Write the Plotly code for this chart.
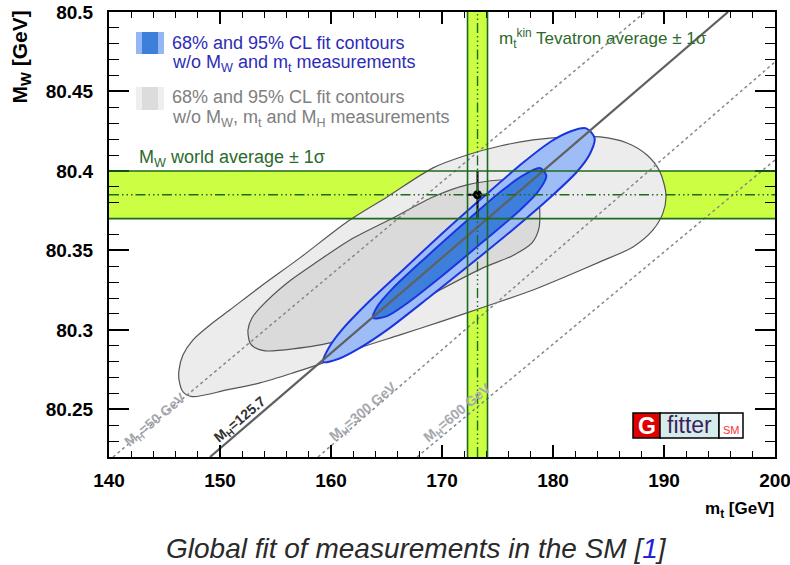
import plotly.graph_objects as go

# ---------------- data ----------------
mt_tickvals = [140, 150, 160, 170, 180, 190, 200]
mt_ticktext = ["140", "150", "160", "170", "180", "190", "200"]
mw_tickvals = [80.25, 80.30, 80.35, 80.40, 80.45, 80.50]
mw_ticktext = ["80.25", "80.3", "80.35", "80.4", "80.45", "80.5"]

# 95% CL contour without MW, mt, MH (light grey)
gray95_mt = [147.48, 146.67, 146.31, 146.31, 146.67, 147.57, 149.10, 150.90, 153.60, 157.20,
             161.44, 165.05, 169.19, 172.25, 175.23, 178.20, 181.26, 184.23, 186.67, 188.47,
             189.64, 190.18, 189.91, 189.01, 187.21, 184.23, 181.26, 178.20, 174.05, 169.82,
             166.22, 162.61, 159.28, 156.58, 153.60, 150.63, 147.48]
gray95_mw = [80.258, 80.261, 80.2685, 80.2748, 80.2843, 80.2937, 80.3031, 80.3126, 80.327, 80.3453,
             80.3679, 80.3836, 80.4019, 80.41, 80.4157, 80.4195, 80.4214, 80.4214, 80.4176, 80.41,
             80.3994, 80.3849, 80.3736, 80.3629, 80.3522, 80.3428, 80.3339, 80.3251, 80.315, 80.305,
             80.2968, 80.2887, 80.2792, 80.2729, 80.2666, 80.2622, 80.258]

# 68% CL contour without MW, mt, MH (darker grey)
gray68_mt = [152.70, 152.52, 152.88, 153.60, 156.04, 158.74, 161.71, 165.59, 169.19, 172.25,
             175.23, 177.48, 178.38, 178.74, 178.74, 178.11, 176.31, 173.69, 169.82, 166.22,
             162.61, 160.18, 156.58, 154.05, 153.15, 152.70]
gray68_mw = [80.2918, 80.30, 80.3075, 80.3138, 80.3295, 80.3428, 80.3566, 80.3704, 80.3836, 80.3912,
             80.3943, 80.3943, 80.3912, 80.3817, 80.3641, 80.3547, 80.3465, 80.339, 80.3251, 80.3113,
             80.30, 80.2924, 80.288, 80.2868, 80.2887, 80.2918]

# 95% CL contour without MW, mt (light blue)
blue95_mt = [159.28, 159.83, 160.98, 163.18, 166.65, 170.14, 173.68, 177.29, 179.81, 181.55,
             182.98, 183.75, 183.31, 182.16, 179.87, 176.27, 172.59, 168.87, 165.12, 162.45,
             160.71, 159.28]
blue95_mw = [80.2798, 80.289, 80.300, 80.3161, 80.3388, 80.3614, 80.3834, 80.4051, 80.4185, 80.4248,
             80.4268, 80.4206, 80.4105, 80.3995, 80.3841, 80.3624, 80.3414, 80.3207, 80.3003, 80.288,
             80.2818, 80.2798]

# 68% CL contour without MW, mt (blue)
blue68_mt = [163.78, 164.20, 165.52, 168.47, 172.24, 175.30, 177.26, 178.80, 179.40, 178.58,
             176.86, 173.79, 169.91, 166.73, 164.99, 163.78]
blue68_mw = [80.3075, 80.315, 80.3258, 80.3451, 80.3686, 80.387, 80.397, 80.4018, 80.397, 80.3863,
             80.3743, 80.356, 80.3334, 80.3161, 80.3085, 80.3075]

# SM lines for fixed Higgs mass
mh50_mt, mh50_mw = [140.36, 188.29], [80.22, 80.50]
mh125_mt, mh125_mw = [149.10, 195.77], [80.22, 80.50]
mh300_mt, mh300_mw = [158.83, 200.00], [80.22, 80.4686]
mh600_mt, mh600_mw = [167.75, 200.00], [80.22, 80.4069]
mh_label_text = ["M<sub>H</sub>=50 GeV", "M<sub>H</sub>=125.7", "M<sub>H</sub>=300 GeV", "M<sub>H</sub>=600 GeV"]
mh_label_mt = [144.2, 151.8, 162.9, 171.4]
mh_label_mw = [80.2434, 80.2434, 80.2484, 80.2478]

# measurements
mw_avg, mw_err = 80.385, 0.015
mt_avg, mt_err = 173.2, 0.9

# ---------------- layout helpers ----------------
L, R, T, B = 109, 15, 12, 108
W, H = 790, 565
PW, PH = W - L - R, H - T - B


def px(x):
    return (x - L) / PW


def py(y):
    return (T + PH - y) / PH


FONT = "Liberation Sans, Arial, sans-serif"
GREEN_FILL = "#ccff44"
GREEN_LINE = "#1d6a1d"
DASHDOT = "10px,3px,1.5px,3px,1.5px,3px,1.5px,3px"

fig = go.Figure()

fig.add_trace(go.Scatter(x=gray95_mt, y=gray95_mw, mode="lines", fill="toself",
                         fillcolor="#ececec", line=dict(color="#555555", width=1.2, shape="spline", smoothing=0.8),
                         hoverinfo="skip", showlegend=False))
fig.add_trace(go.Scatter(x=gray68_mt, y=gray68_mw, mode="lines", fill="toself",
                         fillcolor="#dadada", line=dict(color="#555555", width=1.2, shape="spline", smoothing=0.8),
                         hoverinfo="skip", showlegend=False))
fig.add_trace(go.Scatter(x=blue95_mt, y=blue95_mw, mode="lines", fill="toself",
                         fillcolor="#9ebdf7", line=dict(color="#1a35e0", width=2, shape="spline", smoothing=0.8),
                         hoverinfo="skip", showlegend=False))
fig.add_trace(go.Scatter(x=blue68_mt, y=blue68_mw, mode="lines", fill="toself",
                         fillcolor="#3f7fdc", line=dict(color="#1a35e0", width=2, shape="spline", smoothing=0.8),
                         hoverinfo="skip", showlegend=False))

for xs, ys, dash, col, w in [(mh50_mt, mh50_mw, "3px,3px", "#888888", 1.5),
                              (mh300_mt, mh300_mw, "3px,3px", "#888888", 1.5),
                              (mh600_mt, mh600_mw, "3px,3px", "#888888", 1.5),
                              (mh125_mt, mh125_mw, "solid", "#606060", 2.2)]:
    fig.add_trace(go.Scatter(x=xs, y=ys, mode="lines", line=dict(color=col, width=w, dash=dash),
                             hoverinfo="skip", showlegend=False, cliponaxis=True))

fig.add_trace(go.Scatter(x=[mt_avg], y=[mw_avg], mode="markers",
                         marker=dict(color="black", size=9),
                         error_x=dict(type="data", array=[mt_err], color="black", thickness=2, width=0),
                         error_y=dict(type="data", array=[mw_err], color="black", thickness=2, width=0),
                         hoverinfo="skip", showlegend=False))

shapes = []
# bands (fill below the contours)
shapes.append(dict(type="rect", xref="x", yref="y", x0=140, x1=200, y0=mw_avg - mw_err, y1=mw_avg + mw_err,
                   fillcolor=GREEN_FILL, line=dict(width=0), layer="below"))
shapes.append(dict(type="rect", xref="x", yref="y", x0=mt_avg - mt_err, x1=mt_avg + mt_err, y0=80.22, y1=80.5,
                   fillcolor=GREEN_FILL, line=dict(width=0), layer="below"))
# band edges and centres (on top)
for yv in (mw_avg - mw_err, mw_avg + mw_err):
    shapes.append(dict(type="line", xref="x", yref="y", x0=140, x1=200, y0=yv, y1=yv,
                       line=dict(color=GREEN_LINE, width=1.6), layer="above"))
for xv in (mt_avg - mt_err, mt_avg + mt_err):
    shapes.append(dict(type="line", xref="x", yref="y", x0=xv, x1=xv, y0=80.22, y1=80.5,
                       line=dict(color=GREEN_LINE, width=1.6), layer="above"))
shapes.append(dict(type="line", xref="x", yref="y", x0=140, x1=200, y0=mw_avg, y1=mw_avg,
                   line=dict(color=GREEN_LINE, width=1.4, dash=DASHDOT), layer="above"))
shapes.append(dict(type="line", xref="x", yref="y", x0=mt_avg, x1=mt_avg, y0=80.22, y1=80.5,
                   line=dict(color=GREEN_LINE, width=1.4, dash=DASHDOT), layer="above"))

# legend icons
shapes.append(dict(type="rect", xref="paper", yref="paper", x0=px(136), x1=px(164), y0=py(54), y1=py(32),
                   fillcolor="#93b6f5", line=dict(width=0)))
shapes.append(dict(type="rect", xref="paper", yref="paper", x0=px(142), x1=px(158), y0=py(54), y1=py(32),
                   fillcolor="#3f7fdc", line=dict(width=0)))
shapes.append(dict(type="rect", xref="paper", yref="paper", x0=px(136), x1=px(164), y0=py(110), y1=py(87),
                   fillcolor="#eeeeee", line=dict(width=0)))
shapes.append(dict(type="rect", xref="paper", yref="paper", x0=px(142), x1=px(158), y0=py(110), y1=py(87),
                   fillcolor="#dcdcdc", line=dict(width=0)))
# Gfitter logo boxes
shapes.append(dict(type="rect", xref="paper", yref="paper", x0=px(633), x1=px(660), y0=py(438), y1=py(413),
                   fillcolor="#e00000", line=dict(color="black", width=1.5)))
shapes.append(dict(type="rect", xref="paper", yref="paper", x0=px(660), x1=px(719), y0=py(438), y1=py(413),
                   fillcolor="#d6ebeb", line=dict(color="black", width=1.5)))
shapes.append(dict(type="rect", xref="paper", yref="paper", x0=px(719), x1=px(743), y0=py(438), y1=py(413),
                   fillcolor="white", line=dict(color="black", width=1.5)))

ann = []


def txt(text, x, y, size, color, xanchor="left", yanchor="middle", angle=0, weight="normal", xref="paper",
        yref="paper", italic=False):
    ann.append(dict(text=text, x=x, y=y, xref=xref, yref=yref, xanchor=xanchor, yanchor=yanchor,
                    textangle=angle, showarrow=False,
                    font=dict(family=FONT, size=size, color=color, weight=weight,
                              style="italic" if italic else "normal")))


BLUE_T = "#2c2cb8"
GRAY_T = "#808080"
GREEN_T = "#2c6a2c"
txt("68% and 95% CL fit contours", px(170), py(43), 18, BLUE_T)
txt("w/o M<sub>W</sub> and m<sub>t</sub> measurements", px(170), py(63), 18, BLUE_T)
txt("68% and 95% CL fit contours", px(170), py(97), 18, GRAY_T)
txt("w/o M<sub>W</sub>, m<sub>t</sub> and M<sub>H</sub> measurements", px(170), py(118), 18, GRAY_T)
txt("M<sub>W</sub> world average ± 1σ", px(137), py(158), 18, GREEN_T)
txt("m<sub>t</sub><sup>kin</sup> Tevatron average ± 1σ", px(497), py(38), 17, GREEN_T)

for t, xm, ym, c in zip(mh_label_text, mh_label_mt, mh_label_mw, ["#a4a8ae", "#333333", "#a4a8ae", "#a4a8ae"]):
    txt(t, xm, ym, 14, c, xanchor="center", angle=-40, weight="bold", xref="x", yref="y")

# logo texts
txt("G", px(646.5), py(425.5), 23, "white", xanchor="center", weight="bold")
txt("fitter", px(689.5), py(424.5), 23, "#3a1f5c", xanchor="center")
txt("SM", px(731), py(430), 11, "#ff3030", xanchor="center")

# axis titles and caption
txt("M<sub>W</sub> [GeV]", px(21), py(9), 21, "black", xanchor="center", yanchor="top", angle=-90, weight="bold")
txt("m<sub>t</sub> [GeV]", px(776), py(510), 17, "black", xanchor="right", weight="bold")
txt("Global fit of measurements in the SM [<span style='color:#2222dd'>1</span>]", px(416), py(548), 28,
    "#2a2a2a", xanchor="center", italic=True)

fig.update_layout(width=W, height=H, margin=dict(l=L, r=R, t=T, b=B, autoexpand=False),
                  paper_bgcolor="white", plot_bgcolor="white",
                  shapes=shapes, annotations=ann, showlegend=False)

fig.update_xaxes(range=[140, 200], tickvals=mt_tickvals, ticktext=mt_ticktext, automargin=False,
                 ticklabeloverflow="allow",
                 ticks="inside", ticklen=12, tickwidth=1.5, tickcolor="black",
                 minor=dict(dtick=2, tick0=140, ticks="inside", ticklen=6, tickwidth=1.2, tickcolor="black"),
                 mirror="allticks", showline=True, linecolor="black", linewidth=2,
                 showgrid=False, zeroline=False, ticklabelstandoff=5,
                 tickfont=dict(family=FONT, size=19, color="black", weight="bold"))
fig.update_yaxes(range=[80.22, 80.5], tickvals=mw_tickvals, ticktext=mw_ticktext, automargin=False,
                 ticklabeloverflow="allow",
                 ticks="inside", ticklen=20, tickwidth=1.5, tickcolor="black",
                 minor=dict(dtick=0.01, tick0=80.2, ticks="inside", ticklen=10, tickwidth=1.2, tickcolor="black"),
                 mirror="allticks", showline=True, linecolor="black", linewidth=2,
                 showgrid=False, zeroline=False, ticklabelstandoff=10,
                 tickfont=dict(family=FONT, size=19, color="black", weight="bold"))

fig.write_html("out.html", config={"displayModeBar": False},
               post_script="document.body.style.margin='0px';document.body.style.overflow='hidden';")
